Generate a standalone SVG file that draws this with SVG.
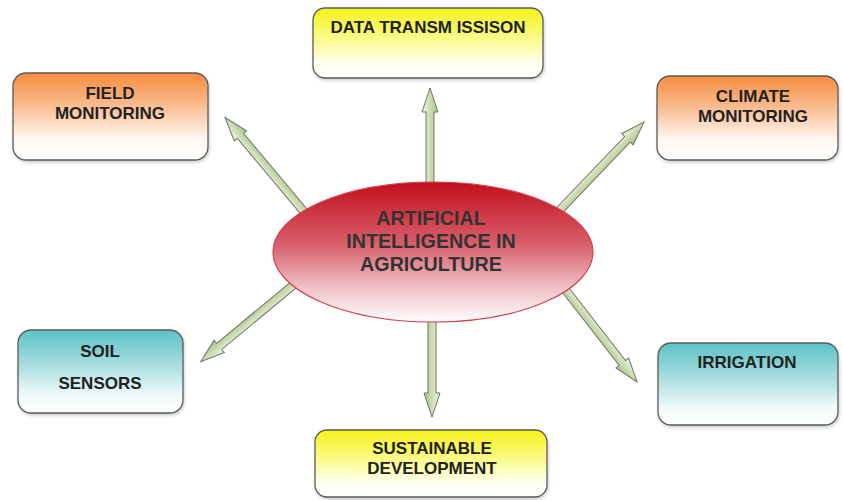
<svg xmlns="http://www.w3.org/2000/svg" width="843" height="500" viewBox="0 0 843 500">
<defs>
<linearGradient id="gOrange" x1="0" y1="0" x2="0" y2="1">
<stop offset="0" stop-color="#f68c3e"/><stop offset="0.35" stop-color="#f9b98a"/><stop offset="0.75" stop-color="#fff6f0"/><stop offset="1" stop-color="#ffffff"/>
</linearGradient>
<linearGradient id="gYellow" x1="0" y1="0" x2="0" y2="1">
<stop offset="0" stop-color="#f5f21a"/><stop offset="0.4" stop-color="#fafa80"/><stop offset="0.8" stop-color="#fffff2"/><stop offset="1" stop-color="#ffffff"/>
</linearGradient>
<linearGradient id="gTeal" x1="0" y1="0" x2="0" y2="1">
<stop offset="0" stop-color="#5cc2c6"/><stop offset="0.4" stop-color="#a4dcde"/><stop offset="0.8" stop-color="#f2fafa"/><stop offset="1" stop-color="#ffffff"/>
</linearGradient>
<linearGradient id="gRed" x1="0" y1="0" x2="0" y2="1">
<stop offset="0" stop-color="#c20f1c"/><stop offset="0.45" stop-color="#d8606c"/><stop offset="0.75" stop-color="#f0c0c5"/><stop offset="1" stop-color="#ffffff"/>
</linearGradient>
<linearGradient id="gArrow" x1="0" y1="0" x2="0" y2="1">
<stop offset="0" stop-color="#f0f6e4"/><stop offset="1" stop-color="#a9c283"/>
</linearGradient>
<filter id="sh" x="-10%" y="-10%" width="120%" height="130%">
<feDropShadow dx="1" dy="2" stdDeviation="1.5" flood-color="#000" flood-opacity="0.18"/>
</filter>
</defs>
<style>
.box{stroke:#5a5a5a;stroke-width:1.3;filter:url(#sh)}
.lbl{font-family:"Liberation Sans",Arial,sans-serif;font-weight:bold;font-size:17px;fill:#222;text-anchor:middle}
.ctr{font-family:"Liberation Sans",Arial,sans-serif;font-weight:bold;font-size:19.7px;fill:#333;text-anchor:middle}
.arr{fill:url(#gArrow);stroke:#6e7466;stroke-width:1}
</style>
<rect width="843" height="500" fill="#ffffff"/>
<g id="connectors">
<path class="arr" transform="translate(430,186) rotate(-90)" d="M0,-4 L74,-4 L74,-8 L98,0 L74,8 L74,4 L0,4 Z"/>
<path class="arr" transform="translate(306,214) rotate(-130)" d="M0,-4 L102,-4 L102,-8 L126,0 L102,8 L102,4 L0,4 Z"/>
<path class="arr" transform="translate(557,213) rotate(-46.3)" d="M0,-4 L102,-4 L102,-8 L126,0 L102,8 L102,4 L0,4 Z"/>
<path class="arr" transform="translate(297,282) rotate(140.4)" d="M0,-4 L101,-4 L101,-8 L125,0 L101,8 L101,4 L0,4 Z"/>
<path class="arr" transform="translate(564,288) rotate(52.1)" d="M0,-4 L95,-4 L95,-8 L119,0 L95,8 L95,4 L0,4 Z"/>
<path class="arr" transform="translate(432,318) rotate(90)" d="M0,-4 L75,-4 L75,-8 L99,0 L75,8 L75,4 L0,4 Z"/>
</g>
<g id="center">
<ellipse cx="433" cy="252" rx="160" ry="70" fill="url(#gRed)" stroke="#d2404e" stroke-width="1.2"/>
<text class="ctr" x="431" y="225">ARTIFICIAL</text>
<text class="ctr" x="431" y="248">INTELLIGENCE IN</text>
<text class="ctr" x="431" y="271">AGRICULTURE</text>
</g>
<g id="data-transmission">
<rect class="box" x="313" y="8" width="230" height="70" rx="12" fill="url(#gYellow)"/>
<text class="lbl" x="428" y="33">DATA TRANSM ISSISON</text>
</g>
<g id="field-monitoring">
<rect class="box" x="13" y="73" width="195" height="87" rx="13" fill="url(#gOrange)"/>
<text class="lbl" x="110" y="99">FIELD</text>
<text class="lbl" x="110" y="119">MONITORING</text>
</g>
<g id="climate-monitoring">
<rect class="box" x="657" y="76" width="181" height="84" rx="13" fill="url(#gOrange)"/>
<text class="lbl" x="753" y="102">CLIMATE</text>
<text class="lbl" x="753" y="122">MONITORING</text>
</g>
<g id="soil-sensors">
<rect class="box" x="18" y="330" width="165" height="83" rx="13" fill="url(#gTeal)"/>
<text class="lbl" x="100" y="357">SOIL</text>
<text class="lbl" x="100" y="389">SENSORS</text>
</g>
<g id="irrigation">
<rect class="box" x="658" y="343" width="180" height="82" rx="13" fill="url(#gTeal)"/>
<text class="lbl" x="747" y="368">IRRIGATION</text>
</g>
<g id="sustainable-development">
<rect class="box" x="315" y="430" width="232" height="67" rx="12" fill="url(#gYellow)"/>
<text class="lbl" x="432" y="454">SUSTAINABLE</text>
<text class="lbl" x="432" y="474">DEVELOPMENT</text>
</g>
</svg>
